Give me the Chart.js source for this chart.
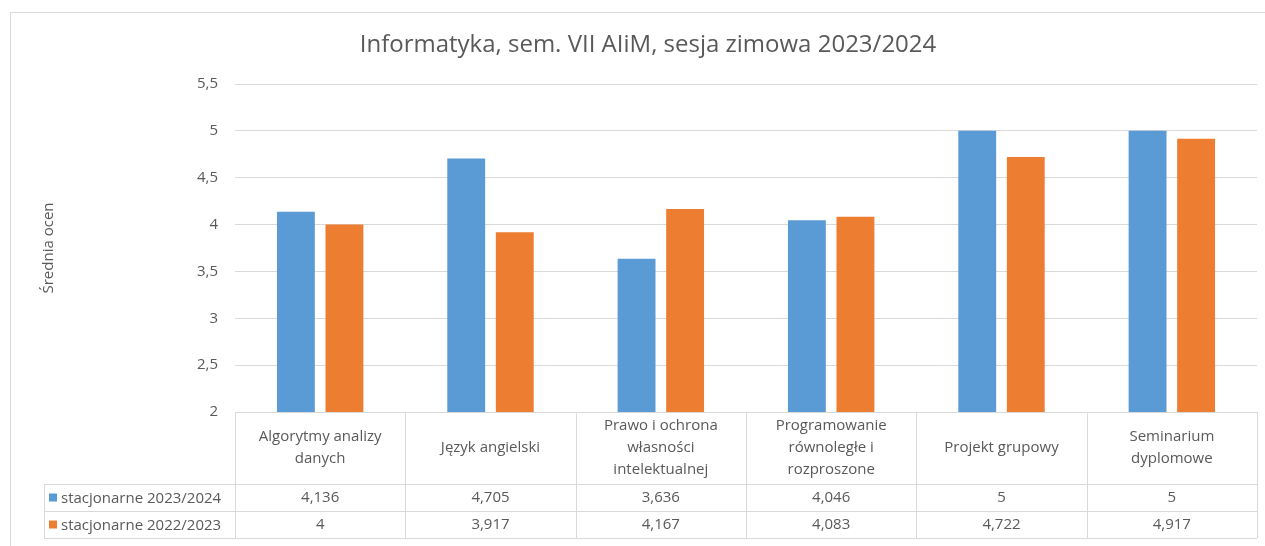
<!DOCTYPE html>
<html>
<head>
<meta charset="utf-8">
<script src="https://cdn.jsdelivr.net/npm/chart.js@4/dist/chart.umd.min.js"></script>
<style>
  html, body { margin: 0; padding: 0; background: #fff; }
  #wrap { width: 1265px; height: 546px; }
</style>
</head>
<body>
<div id="wrap"><canvas id="myChart" width="1265" height="546"></canvas></div>
<script>
const categories = [
  ['Algorytmy analizy', 'danych'],
  ['Język angielski'],
  ['Prawo i ochrona', 'własności', 'intelektualnej'],
  ['Programowanie', 'równoległe i', 'rozproszone'],
  ['Projekt grupowy'],
  ['Seminarium', 'dyplomowe'],
];
const seriesNames = ['stacjonarne 2023/2024', 'stacjonarne 2022/2023'];
const values2324 = [4.136, 4.705, 3.636, 4.046, 5, 5];
const values2223 = [4, 3.917, 4.167, 4.083, 4.722, 4.917];
const colors = ['#5B9BD5', '#ED7D31'];
const titleText = 'Informatyka, sem. VII AIiM, sesja zimowa 2023/2024';

const textColor = '#595959';
const lineColor = '#d9d9d9';
const fontFamily = "'Open Sans', sans-serif";

const fmt = v => String(v).replace('.', ',');

// outer frame + title, like the Excel chart area
const frame = {
  id: 'frame',
  beforeDraw(chart) {
    const c = chart.ctx;
    c.save();
    c.strokeStyle = lineColor;
    c.lineWidth = 1;
    c.strokeRect(10.5, 12.5, chart.width, chart.height);
    c.fillStyle = textColor;
    c.font = '24px ' + fontFamily;
    c.textAlign = 'center';
    c.textBaseline = 'middle';
    c.fillText(titleText, 648, 45);
    c.restore();
  },
};

// data table under the plot, columns follow the x scale
const dataTable = {
  id: 'dataTable',
  afterDraw(chart) {
    const c = chart.ctx;
    const x = chart.scales.x;
    const area = chart.chartArea;
    const top = Math.round(area.bottom);
    const headH = 72, rowH = 27;
    const r1 = top + headH, r2 = r1 + rowH, r3 = r2 + rowH;
    const legLeft = 44;
    const colW = (area.right - area.left) / categories.length;

    c.save();
    c.strokeStyle = lineColor;
    c.lineWidth = 1;
    c.beginPath();
    [r1, r2, r3].forEach(y => {
      c.moveTo(legLeft, y + 0.5);
      c.lineTo(area.right, y + 0.5);
    });
    c.moveTo(legLeft + 0.5, r1);
    c.lineTo(legLeft + 0.5, r3);
    for (let i = 0; i <= categories.length; i++) {
      const px = Math.round(area.left + i * colW) + 0.5;
      c.moveTo(px, top);
      c.lineTo(px, r3);
    }
    c.stroke();

    c.fillStyle = textColor;
    c.font = '15px ' + fontFamily;
    c.textAlign = 'center';
    c.textBaseline = 'middle';
    categories.forEach((lines, i) => {
      const cx = x.getPixelForValue(i);
      const lh = 22;
      const y0 = top + headH / 2 - (lines.length - 1) * lh / 2;
      lines.forEach((t, k) => c.fillText(t, cx, y0 + k * lh));
      c.fillText(fmt(values2324[i]), cx, r1 + rowH / 2);
      c.fillText(fmt(values2223[i]), cx, r2 + rowH / 2);
    });

    c.textAlign = 'left';
    [r1, r2].forEach((y, k) => {
      c.fillStyle = colors[k];
      c.fillRect(49, y + rowH / 2 - 4, 8, 8);
      c.fillStyle = textColor;
      c.fillText(seriesNames[k], 61, y + rowH / 2 + 1);
    });
    c.restore();
  },
};

const ctx = document.getElementById('myChart').getContext('2d');
const myChart = new Chart(ctx, {
  type: 'bar',
  data: {
    labels: categories,
    datasets: [
      {
        label: seriesNames[0],
        data: values2324,
        backgroundColor: colors[0],
        categoryPercentage: 0.57,
        barPercentage: 0.78,
      },
      {
        label: seriesNames[1],
        data: values2223,
        backgroundColor: colors[1],
        categoryPercentage: 0.57,
        barPercentage: 0.78,
      },
    ],
  },
  options: {
    responsive: false,
    animation: false,
    layout: {
      padding: { left: 10, right: 8, top: 84, bottom: 134 },
    },
    plugins: {
      legend: { display: false },
      tooltip: { enabled: false },
      title: { display: false },
    },
    scales: {
      x: {
        display: false,
      },
      y: {
        min: 2,
        max: 5.5,
        afterFit(scale) {
          scale.width = 225;
        },
        border: { display: false },
        grid: { color: lineColor, drawTicks: false },
        ticks: {
          stepSize: 0.5,
          padding: 17,
          color: textColor,
          font: { family: fontFamily, size: 15 },
          callback: v => fmt(v),
        },
        title: {
          display: true,
          text: 'Średnia ocen',
          color: textColor,
          font: { family: fontFamily, size: 15 },
          padding: { top: 30, bottom: 0 },
        },
      },
    },
  },
  plugins: [frame, dataTable],
});
</script>
</body>
</html>
